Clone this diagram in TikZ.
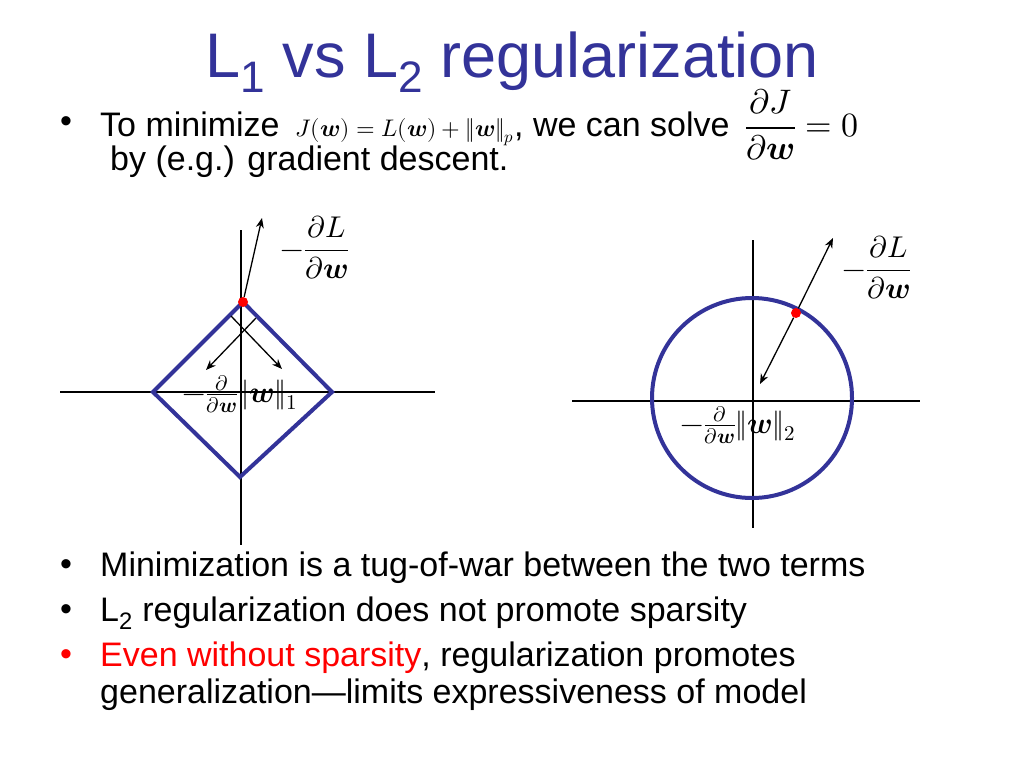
\documentclass[tikz,border=0pt]{standalone}
\usepackage{amsmath}
\usepackage{fontspec}
\setmainfont{Liberation Sans}
\usepackage{unicode-math}
\setmathfont{Latin Modern Math}
\usetikzlibrary{arrows.meta}
\definecolor{titleblue}{RGB}{51,51,153}
\newcommand{\wv}{\symbfit{w}}
\begin{document}
\begin{tikzpicture}[x=1pt,y=-1pt]
	\tikzset{
	  AxisStyle/.style = {line width=1.2pt, black},
	  BallStyle/.style = {line width=4pt, titleblue},
	  GradStyle/.style = {-{Stealth[length=10pt,width=8pt]}, line width=1.3pt},
	  DotStyle/.style = {circle, fill=red, inner sep=0pt, minimum size=10pt},
	  BodyText/.style = {font=\fontsize{34}{38}\selectfont, anchor=west, inner sep=0pt},
	  MathLabel/.style = {font=\fontsize{30}{34}\selectfont, inner sep=0pt} }
	\useasboundingbox (0,0) rectangle (1024,768);
	% title and text
	\node[font=\fontsize{63}{68}\selectfont, text=titleblue] (title) at (512,62)
	  {L\textsubscript{1} vs L\textsubscript{2} regularization};
	\node[BodyText] (d1) at (60,125) {\textbullet};
	\node[BodyText] (b1) at (100,125) {To minimize\hspace{6pt}
	  {\fontsize{24}{28}\selectfont$J(\wv)=L(\wv)+\|\wv\|_p$}, we can solve\hspace{6pt}
	  {\fontsize{34}{38}\selectfont$\dfrac{\partial J}{\partial \wv}=0$}};
	\node[BodyText] (b1b) at (110,162) {by (e.g.) gradient descent.};
	\node[BodyText] (d2) at (60,568) {\textbullet};
	\node[BodyText] (b2) at (100,568) {Minimization is a tug-of-war between the two terms};
	\node[BodyText] (d3) at (60,613) {\textbullet};
	\node[BodyText] (b3) at (100,613) {L\textsubscript{2} regularization does not promote sparsity};
	\node[BodyText, text=red] (d4) at (60,658) {\textbullet};
	\node[BodyText] (b4) at (100,658) {\textcolor{red}{Even without sparsity}, regularization promotes};
	\node[BodyText] (b4b) at (100,695) {generalization\textemdash limits expressiveness of model};
	% L1 ball
	\draw[AxisStyle] (241,230) -- (241,545);
	\draw[AxisStyle] (60,392) -- (435,392);
	\draw[BallStyle] (243,302) -- (153,392) -- (240,477) -- (332,392) -- cycle;
	\node[DotStyle] (p1) at (243,302) {};
	\coordinate (g1) at (262,218);
	\draw[GradStyle] (p1) -- (g1);
	\coordinate (r1a) at (256,318); \coordinate (r1b) at (206,370);
	\coordinate (r2a) at (231,316); \coordinate (r2b) at (282,369);
	\draw[GradStyle] (r1a) -- (r1b);
	\draw[GradStyle] (r2a) -- (r2b);
	\node[MathLabel] (lab1) at (315,248) {$-\dfrac{\partial L}{\partial \wv}$};
	\node[MathLabel] (lab2) at (240,394) {$-\frac{\partial}{\partial \wv}\|\wv\|_1$};
	% L2 ball
	\draw[AxisStyle] (753,240) -- (753,528);
	\draw[AxisStyle] (572,401) -- (920,401);
	\draw[BallStyle] (752,398) circle (100);
	\node[DotStyle] (p2) at (796,313) {};
	\coordinate (g2) at (833,238);
	\coordinate (r3) at (760,384);
	\draw[GradStyle] (p2) -- (g2);
	\draw[GradStyle] (p2) -- (r3);
	\node[MathLabel] (lab3) at (877,268) {$-\dfrac{\partial L}{\partial \wv}$};
	\node[MathLabel] (lab4) at (738,425) {$-\frac{\partial}{\partial \wv}\|\wv\|_2$};
\end{tikzpicture}
\end{document}
